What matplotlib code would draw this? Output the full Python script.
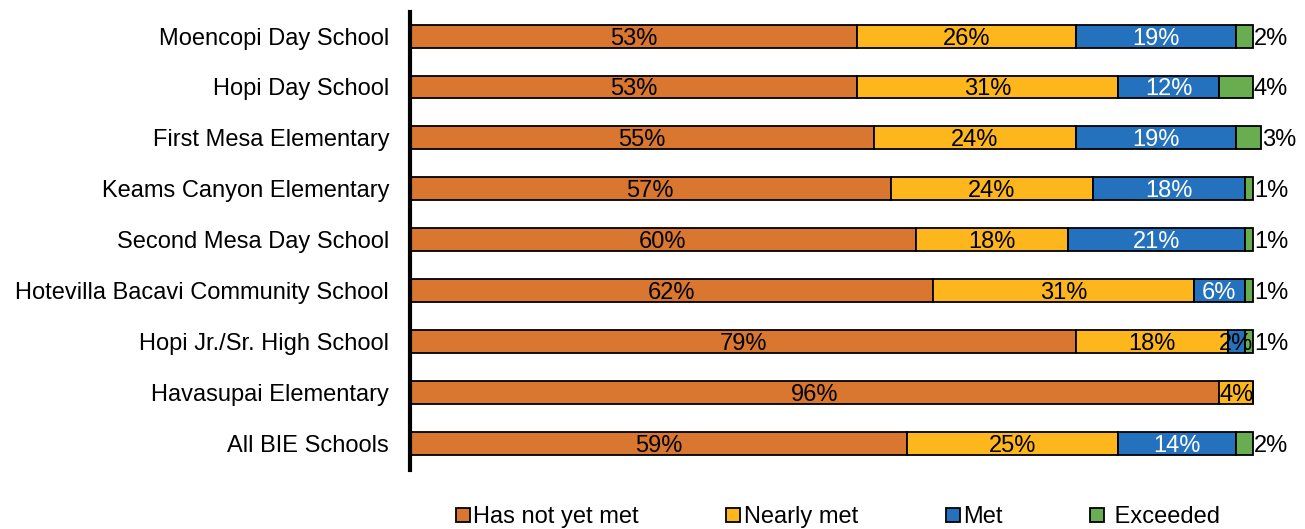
import matplotlib
matplotlib.use("Agg")
import matplotlib.pyplot as plt
from matplotlib.lines import Line2D
import numpy as np

plt.rcParams['font.family'] = ['Liberation Sans', 'DejaVu Sans']

schools = [
    "Moencopi Day School",
    "Hopi Day School",
    "First Mesa Elementary",
    "Keams Canyon Elementary",
    "Second Mesa Day School",
    "Hotevilla Bacavi Community School",
    "Hopi Jr./Sr. High School",
    "Havasupai Elementary",
    "All BIE Schools",
]
has_not_yet_met = [53, 53, 55, 57, 60, 62, 79, 96, 59]
nearly_met = [26, 31, 24, 24, 18, 31, 18, 4, 25]
met = [19, 12, 19, 18, 21, 6, 2, 0, 14]
exceeded = [2, 4, 3, 1, 1, 1, 1, 0, 2]

series = [
    ("Has not yet met", has_not_yet_met, "#D97630", "black"),
    ("Nearly met", nearly_met, "#FDB71C", "black"),
    ("Met", met, "#2471BD", "white"),
    (" Exceeded", exceeded, "#68AD50", "black"),
]

FS = 17

fig = plt.figure(figsize=(13.05, 5.29), dpi=100)
ax = fig.add_axes([0.3142, 0.1115, 0.9602 - 0.3142, 0.977 - 0.1115])

y = np.arange(len(schools))
left = np.zeros(len(schools))
handles = []
for si, (name, vals, color, tcolor) in enumerate(series):
    vals = np.array(vals, dtype=float)
    bars = ax.barh(y, vals, left=left, height=0.45, color=color,
                   edgecolor="black", linewidth=1.3, zorder=2)
    for b in bars:
        b.set_clip_on(False)
    for i, v in enumerate(vals):
        if v <= 0:
            continue
        if si == 3:
            ax.text(left[i] + v + 0.1, y[i], f"{int(v)}%", ha="left",
                    va="center_baseline", fontsize=FS, color="black", zorder=3)
        else:
            c = tcolor if v >= 5 else "black"
            ax.text(left[i] + v / 2, y[i], f"{int(v)}%", ha="center",
                    va="center_baseline", fontsize=FS, color=c, zorder=3)
    left += vals
    handles.append(Line2D([], [], marker="s", linestyle="none",
                          markersize=10, markerfacecolor=color,
                          markeredgecolor="black", markeredgewidth=1.3,
                          label=name))

ax.set_xlim(0, 100)
ax.set_ylim(len(schools) - 0.47, -0.47)
ax.set_yticks(y)
ax.set_yticklabels(schools, fontsize=FS)
ax.tick_params(axis="y", length=0, pad=15)
ax.set_xticks([])
for s in ["top", "right", "bottom"]:
    ax.spines[s].set_visible(False)
ax.spines["left"].set_linewidth(3)
ax.spines["left"].set_zorder(4)

fig.legend(handles=handles, loc="center", bbox_to_anchor=(0.641, 0.022),
           ncol=4, frameon=False, fontsize=FS, handletextpad=0.05,
           columnspacing=3.6, handlelength=0.8)

fig.savefig("out.png", dpi=100)
